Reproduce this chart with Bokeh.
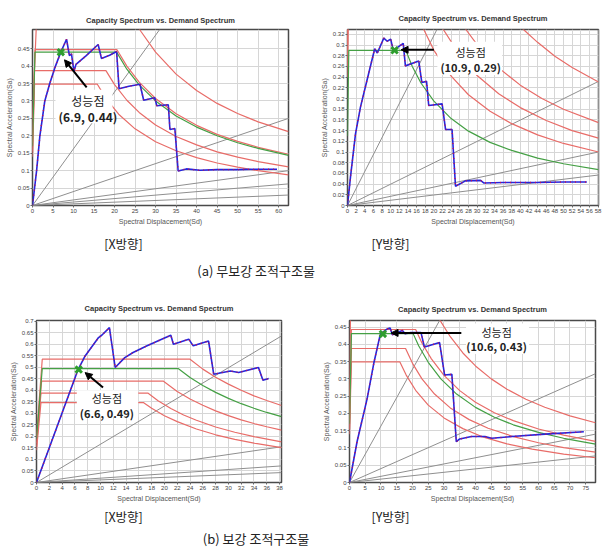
from bokeh.plotting import figure
from bokeh.models import Range1d, FixedTicker, Label, Arrow, NormalHead, BoxAnnotation, ColumnDataSource
from bokeh.layouts import column, row
from bokeh.embed import file_html
from bokeh.resources import INLINE

TITLE = "Capacity Spectrum vs. Demand Spectrum"
XLABEL = "Spectral Displacement(Sd)"
YLABEL = "Spectral Acceleration(Sa)"
PP_WORD = "성능점"

# ---------------- (a) X direction ----------------
AX_XRANGE = (0, 62.4)
AX_YRANGE = (0, 0.505)
AX_XTICKS = [0, 5, 10, 15, 20, 25, 30, 35, 40, 45, 50, 55, 60]
AX_XLABELS = ["0", "5", "10", "15", "20", "25", "30", "35", "40", "45", "50", "55", "60"]
AX_YTICKS = [0, 0.05, 0.1, 0.15, 0.2, 0.25, 0.3, 0.35, 0.4, 0.45]
AX_YLABELS = ["0", "0.05", "0.1", "0.15", "0.2", "0.25", "0.3", "0.35", "0.4", "0.45"]
AX_CAP_SD = [0, 1.0, 1.8, 3.0, 4.2, 5.6, 6.9, 8.3, 9.0, 9.5, 10.1, 10.6, 13.1, 16.0, 16.8, 18.8, 20.5,
             21.1, 23.5, 26.2, 27.1, 29.8, 30.3, 33.1, 33.5, 34.7, 35.5, 37.5, 40.8, 45.0, 50.0, 55.0, 59.6]
AX_CAP_SA = [0, 0.10, 0.20, 0.30, 0.35, 0.40, 0.44, 0.477, 0.43, 0.435, 0.385, 0.405, 0.43, 0.462, 0.422, 0.431, 0.442,
             0.335, 0.342, 0.348, 0.302, 0.309, 0.286, 0.289, 0.218, 0.221, 0.099, 0.105, 0.101, 0.103, 0.103, 0.104, 0.104]
AX_R1_SD = [0, 1.3, 21.3, 24.0, 26.4, 30.0, 35.0, 40.0, 45.0, 50.0, 55.0, 62.4]
AX_R1_SA = [0.25, 0.62, 0.62, 0.55, 0.50, 0.44, 0.377, 0.33, 0.293, 0.264, 0.24, 0.212]
AX_R2_SD = [0, 0.6, 20.6, 23.0, 26.0, 30.0, 35.0, 40.0, 45.0, 50.0, 55.0, 62.4]
AX_R2_SA = [0.18, 0.447, 0.447, 0.40, 0.354, 0.307, 0.263, 0.23, 0.204, 0.184, 0.167, 0.147]
AX_R3_SD = [0, 0.5, 17.9, 20.0, 23.0, 26.0, 30.0, 35.0, 40.0, 45.0, 50.0, 55.0, 62.4]
AX_R3_SA = [0.155, 0.387, 0.387, 0.347, 0.302, 0.267, 0.231, 0.198, 0.174, 0.154, 0.139, 0.126, 0.111]
AX_R4_SD = [0, 0.5, 15.8, 18.0, 21.0, 25.0, 30.0, 35.0, 40.0, 45.0, 50.0, 55.0, 62.4]
AX_R4_SA = [0.14, 0.348, 0.348, 0.306, 0.262, 0.22, 0.183, 0.157, 0.1375, 0.122, 0.11, 0.10, 0.088]
AX_G_SD = [0, 0.6, 20.5, 23.0, 26.0, 30.0, 35.0, 40.0, 45.0, 50.0, 55.0, 62.4]
AX_G_SA = [0.17, 0.44, 0.44, 0.391, 0.346, 0.30, 0.257, 0.225, 0.20, 0.18, 0.164, 0.144]
AX_GRAY_SD = [31.0, 62.4, 62.4, 62.4, 62.4]
AX_GRAY_SA = [0.505, 0.25, 0.10, 0.062, 0.03]
AX_PP = (6.9, 0.44)
AX_PP_TEXT = "(6.9, 0.44)"

# ---------------- (a) Y direction ----------------
AY_XRANGE = (0, 58.1)
AY_YRANGE = (0, 0.329)
AY_XTICKS = list(range(0, 59, 2))
AY_XLABELS = [str(v) for v in AY_XTICKS]
AY_YTICKS = [0, 0.02, 0.04, 0.06, 0.08, 0.1, 0.12, 0.14, 0.16, 0.18, 0.2, 0.22, 0.24, 0.26, 0.28, 0.3, 0.32]
AY_YLABELS = ["0", "0.02", "0.04", "0.06", "0.08", "0.1", "0.12", "0.14", "0.16", "0.18", "0.2", "0.22",
              "0.24", "0.26", "0.28", "0.3", "0.32"]
AY_CAP_SD = [0, 0.7, 1.85, 3.0, 4.6, 6.3, 6.9, 8.4, 9.2, 10.0, 10.6, 12.9, 13.4, 16.5, 17.2, 18.3, 18.8,
             21.9, 22.7, 24.2, 25.0, 27.3, 30.8, 31.6, 36.0, 44.0, 50.0, 55.4]
AY_CAP_SA = [0, 0.054, 0.134, 0.184, 0.237, 0.293, 0.285, 0.313, 0.307, 0.311, 0.29, 0.303, 0.261, 0.27, 0.23,
             0.232, 0.187, 0.19, 0.142, 0.142, 0.036, 0.046, 0.047, 0.042, 0.043, 0.043, 0.044, 0.044]
AY_R1_SD = [0, 0.35, 9.7, 12.0, 15.0, 17.6, 20.0, 24.0, 28.0, 33.0, 38.0, 44.0, 50.0, 58.1]
AY_R1_SA = [0.24, 0.6, 0.6, 0.483, 0.387, 0.33, 0.29, 0.242, 0.207, 0.176, 0.153, 0.132, 0.116, 0.10]
AY_R2_SD = [0, 0.4, 9.7, 13.0, 17.0, 22.1, 26.0, 30.0, 35.0, 40.0, 46.0, 52.0, 58.1]
AY_R2_SA = [0.26, 0.75, 0.75, 0.56, 0.43, 0.33, 0.281, 0.243, 0.209, 0.183, 0.159, 0.14, 0.126]
AY_R3_SD = [0, 0.45, 11.25, 15.0, 20.0, 27.3, 31.0, 35.0, 40.0, 45.0, 50.0, 58.1]
AY_R3_SA = [0.28, 0.8, 0.8, 0.6, 0.45, 0.33, 0.29, 0.257, 0.225, 0.20, 0.18, 0.155]
AY_R4_SD = [0, 0.5, 14.9, 20.0, 30.0, 40.6, 44.0, 48.0, 52.0, 58.1]
AY_R4_SA = [0.3, 0.9, 0.9, 0.67, 0.447, 0.33, 0.305, 0.279, 0.258, 0.231]
AY_G_SD = [0, 0.3, 13.5, 15.0, 17.0, 20.0, 24.0, 28.0, 33.0, 38.0, 44.0, 50.0, 58.1]
AY_G_SA = [0.13, 0.29, 0.29, 0.26, 0.229, 0.195, 0.1625, 0.139, 0.118, 0.103, 0.0886, 0.078, 0.067]
AY_GRAY_SD = [20.7, 58.1, 58.1, 58.1]
AY_GRAY_SA = [0.329, 0.232, 0.10, 0.057]
AY_PP = (10.9, 0.29)
AY_PP_TEXT = "(10.9, 0.29)"

# ---------------- (b) X direction ----------------
BX_XRANGE = (0, 38.3)
BX_YRANGE = (0, 0.703)
BX_XTICKS = list(range(0, 39, 2))
BX_XLABELS = [str(v) for v in BX_XTICKS]
BX_YTICKS = [0, 0.05, 0.1, 0.15, 0.2, 0.25, 0.3, 0.35, 0.4, 0.45, 0.5, 0.55, 0.6, 0.65, 0.7]
BX_YLABELS = ["0", "0.05", "0.1", "0.15", "0.2", "0.25", "0.3", "0.35", "0.4", "0.45", "0.5", "0.55",
              "0.6", "0.65", "0.7"]
BX_CAP_SD = [0, 6.5, 7.6, 9.7, 10.2, 11.4, 12.3, 13.8, 15.1, 17.2, 19.3, 21.0, 21.4, 23.8, 24.5, 26.9,
             27.7, 30.3, 31.6, 34.7, 35.4, 36.3]
BX_CAP_SA = [0, 0.49, 0.549, 0.629, 0.639, 0.672, 0.499, 0.542, 0.564, 0.592, 0.618, 0.639, 0.60, 0.622,
             0.593, 0.614, 0.47, 0.484, 0.477, 0.499, 0.444, 0.451]
BX_R1_SD = [0, 0.9, 24.0, 26.0, 28.0, 30.0, 32.0, 34.0, 36.0, 38.3]
BX_R1_SA = [0.2, 0.535, 0.535, 0.492, 0.457, 0.427, 0.40, 0.376, 0.356, 0.334]
BX_R2_SD = [0, 0.8, 19.8, 22.0, 24.0, 26.0, 28.0, 30.0, 32.0, 34.0, 36.0, 38.3]
BX_R2_SA = [0.17, 0.44, 0.44, 0.395, 0.3625, 0.335, 0.311, 0.29, 0.272, 0.256, 0.242, 0.227]
BX_R3_SD = [0, 0.7, 17.4, 19.0, 21.0, 23.0, 25.0, 28.0, 31.0, 34.0, 38.3]
BX_R3_SA = [0.155, 0.388, 0.388, 0.355, 0.321, 0.293, 0.27, 0.241, 0.218, 0.199, 0.176]
BX_R4_SD = [0, 0.7, 16.7, 18.0, 20.0, 22.0, 25.0, 28.0, 31.0, 34.0, 38.3]
BX_R4_SA = [0.14, 0.347, 0.347, 0.322, 0.29, 0.264, 0.232, 0.207, 0.187, 0.171, 0.151]
BX_G_SD = [0, 0.9, 22.2, 24.0, 26.0, 28.0, 30.0, 32.0, 34.0, 36.0, 38.3]
BX_G_SA = [0.19, 0.494, 0.494, 0.456, 0.421, 0.391, 0.365, 0.342, 0.322, 0.304, 0.286]
BX_GRAY_SD = [38.3, 38.3, 38.3, 38.3]
BX_GRAY_SA = [0.636, 0.155, 0.072, 0.043]
BX_PP = (6.6, 0.49)
BX_PP_TEXT = "(6.6, 0.49)"

# ---------------- (b) Y direction ----------------
BY_XRANGE = (0, 78.1)
BY_YRANGE = (0, 0.469)
BY_XTICKS = list(range(0, 76, 5))
BY_XLABELS = [str(v) for v in BY_XTICKS]
BY_YTICKS = [0, 0.05, 0.1, 0.15, 0.2, 0.25, 0.3, 0.35, 0.4, 0.45]
BY_YLABELS = ["0", "0.05", "0.1", "0.15", "0.2", "0.25", "0.3", "0.35", "0.4", "0.45"]
BY_CAP_SD = [0, 2.4, 5.6, 7.8, 9.7, 10.4, 12.0, 12.9, 13.6, 15.2, 16.8, 17.6, 19.5, 22.7, 23.8, 28.6,
             30.2, 32.5, 33.9, 35.0, 38.7, 43.0, 45.1, 51.5, 62.1, 74.4]
BY_CAP_SA = [0, 0.118, 0.243, 0.349, 0.426, 0.434, 0.445, 0.447, 0.428, 0.434, 0.44, 0.431, 0.434, 0.434,
             0.392, 0.405, 0.311, 0.313, 0.118, 0.126, 0.133, 0.133, 0.128, 0.133, 0.14, 0.147]
BY_R1_SD = [0, 0.6, 19.3, 22.0, 25.0, 28.7, 32.0, 36.0, 40.0, 45.0, 50.0, 56.0, 62.0, 70.0, 78.1]
BY_R1_SA = [0.25, 0.7, 0.7, 0.614, 0.54, 0.47, 0.422, 0.375, 0.3375, 0.30, 0.27, 0.241, 0.218, 0.193, 0.173]
BY_R2_SD = [0, 0.6, 21.0, 23.0, 26.0, 30.0, 35.0, 40.0, 46.0, 52.0, 60.0, 68.0, 78.1]
BY_R2_SA = [0.18, 0.443, 0.443, 0.404, 0.358, 0.31, 0.266, 0.2325, 0.202, 0.179, 0.155, 0.137, 0.119]
BY_R3_SD = [0, 0.6, 17.8, 20.0, 23.0, 27.0, 32.0, 38.0, 44.0, 52.0, 60.0, 68.0, 78.1]
BY_R3_SA = [0.155, 0.388, 0.388, 0.345, 0.30, 0.256, 0.216, 0.182, 0.157, 0.133, 0.115, 0.101, 0.088]
BY_R4_SD = [0, 0.6, 16.0, 18.0, 21.0, 25.0, 30.0, 36.0, 42.0, 50.0, 58.0, 68.0, 78.1]
BY_R4_SA = [0.14, 0.349, 0.349, 0.311, 0.267, 0.224, 0.187, 0.156, 0.133, 0.112, 0.0966, 0.0824, 0.0717]
BY_G_SD = [0, 0.6, 20.2, 22.0, 25.0, 29.0, 34.0, 40.0, 46.0, 52.0, 60.0, 68.0, 78.1]
BY_G_SA = [0.17, 0.431, 0.431, 0.395, 0.348, 0.30, 0.256, 0.2175, 0.189, 0.167, 0.145, 0.128, 0.111]
BY_GRAY_SD = [28.6, 78.1, 78.1, 78.1]
BY_GRAY_SA = [0.469, 0.315, 0.14, 0.077]
BY_PP = (10.6, 0.43)
BY_PP_TEXT = "(10.6, 0.43)"

CAPTION_A = "(a) 무보강  조적구조물"
CAPTION_B = "(b) 보강  조적구조물"
SUB_X = "[X방향]"
SUB_Y = "[Y방향]"

BLUE = "#2626dc"
DOTS = "#c8104c"
RED = "#e86c68"
GREEN = "#45a045"
GRAY = "#8f8f8f"
KFONT = "Noto Sans CJK KR"
AFONT = "Liberation Sans"


def make_panel(width, height, borders, xr, yr, xt, xl, yt, yl, reds, green, gray_sd, gray_sa,
               cap_sd, cap_sa, pp, pp_text, box, txt_pos, arrow, fsize, title_standoff, title_offset):
    left, right, top, bottom = borders
    p = figure(width=width, height=height, x_range=Range1d(*xr), y_range=Range1d(*yr),
               toolbar_location=None, output_backend="svg",
               min_border_left=left, min_border_right=right, min_border_top=top, min_border_bottom=bottom,
               background_fill_color="white", border_fill_color="white")
    p.title.text = TITLE
    p.title.align = "center"
    p.title.offset = title_offset
    p.title.standoff = title_standoff
    p.title.text_font = AFONT
    p.title.text_font_size = "7.5px"
    p.title.text_font_style = "bold"
    p.title.text_color = "#333333"
    p.outline_line_color = "#4a4a4a"
    p.outline_line_width = 1.5
    p.xaxis.axis_label = XLABEL
    p.yaxis.axis_label = YLABEL
    p.xaxis.ticker = FixedTicker(ticks=xt)
    p.yaxis.ticker = FixedTicker(ticks=yt)
    p.xaxis.major_label_overrides = dict(zip(xt, xl))
    p.yaxis.major_label_overrides = dict(zip(yt, yl))
    for ax in p.axis:
        ax.major_label_text_font = AFONT
        ax.major_label_text_font_size = "6px"
        ax.major_label_text_color = "#444444"
        ax.axis_label_text_font = AFONT
        ax.axis_label_text_font_size = "7px"
        ax.axis_label_text_font_style = "normal"
        ax.axis_label_text_color = "#555555"
        ax.axis_line_color = None
        ax.major_tick_line_color = "#666666"
        ax.major_tick_out = 2
        ax.major_tick_in = 0
        ax.minor_tick_line_color = None
        ax.major_label_standoff = 1
        ax.axis_label_standoff = 2
    p.grid.grid_line_color = "#d6d6d6"
    p.grid.grid_line_width = 1

    # period (radial) lines
    gsrc = ColumnDataSource(dict(x0=[0] * len(gray_sd), y0=[0] * len(gray_sd), x1=gray_sd, y1=gray_sa))
    p.segment(x0="x0", y0="y0", x1="x1", y1="y1", source=gsrc, line_color=GRAY, line_width=1)
    # demand spectra
    for sd, sa in reds:
        p.line(sd, sa, line_color=RED, line_width=1.2)
    p.line(green[0], green[1], line_color=GREEN, line_width=1.2)
    # capacity spectrum
    p.line(cap_sd, cap_sa, line_color=BLUE, line_width=1.6)
    p.line(cap_sd, cap_sa, line_color=DOTS, line_width=1.4, line_dash="1 4")
    # performance point
    p.scatter([pp[0]], [pp[1]], marker="x", size=9, line_width=3, line_color="#2e9e2e")

    bl, br, bb, bt = box
    p.add_layout(BoxAnnotation(left=bl, right=br, bottom=bb, top=bt, fill_color="white", fill_alpha=1.0,
                               line_color=None))
    tx, ty1, ty2 = txt_pos
    p.add_layout(Label(x=tx, y=ty1, text=PP_WORD, text_align="center", text_baseline="middle",
                       text_font=KFONT, text_font_size=fsize, text_color="#222222"))
    p.add_layout(Label(x=tx, y=ty2, text=pp_text, text_align="center", text_baseline="middle",
                       text_font=KFONT, text_font_size=fsize, text_font_style="bold", text_color="#222222"))
    xs, ys, xe, ye = arrow
    p.add_layout(Arrow(end=NormalHead(size=7, fill_color="black", line_color="black"),
                       x_start=xs, y_start=ys, x_end=xe, y_end=ye, line_color="black", line_width=2))
    return p


def caption(height, y_sub, y_main, text):
    c = figure(width=616, height=height, x_range=Range1d(0, 616), y_range=Range1d(0, height),
               toolbar_location=None, output_backend="svg", min_border=0,
               x_axis_type=None, y_axis_type=None, outline_line_color=None)
    c.xgrid.visible = False
    c.ygrid.visible = False
    for x, t in [(123, SUB_X), (390, SUB_Y)]:
        c.add_layout(Label(x=x, y=y_sub, text=t, text_align="center", text_baseline="middle",
                           text_font=KFONT, text_font_size="12.5px", text_color="#222222"))
    c.add_layout(Label(x=257, y=y_main, text=text, text_align="center", text_baseline="middle",
                       text_font=KFONT, text_font_size="13px", text_color="#222222"))
    return c


pAX = make_panel(306, 233, (32, 18, 23, 28), AX_XRANGE, AX_YRANGE, AX_XTICKS, AX_XLABELS, AX_YTICKS, AX_YLABELS,
                 [(AX_R1_SD, AX_R1_SA), (AX_R2_SD, AX_R2_SA), (AX_R3_SD, AX_R3_SA), (AX_R4_SD, AX_R4_SA)],
                 (AX_G_SD, AX_G_SA), AX_GRAY_SD, AX_GRAY_SA, AX_CAP_SD, AX_CAP_SA, AX_PP, AX_PP_TEXT,
                 (5.6, 19.5, 0.236, 0.332), (13.5, 0.30, 0.256), (13.2, 0.339, 7.8, 0.418), "12px", 10, -10)
pAY = make_panel(310, 233, (41, 18, 29, 26), AY_XRANGE, AY_YRANGE, AY_XTICKS, AY_XLABELS, AY_YTICKS, AY_YLABELS,
                 [(AY_R1_SD, AY_R1_SA), (AY_R2_SD, AY_R2_SA), (AY_R3_SD, AY_R3_SA), (AY_R4_SD, AY_R4_SA)],
                 (AY_G_SD, AY_G_SA), AY_GRAY_SD, AY_GRAY_SA, AY_CAP_SD, AY_CAP_SA, AY_PP, AY_PP_TEXT,
                 (20.8, 35.8, 0.244, 0.306), (28.5, 0.2875, 0.2596), (20.0, 0.291, 12.4, 0.291), "11px", 13, -10)
pBX = make_panel(306, 215, (36, 25, 29, 23), BX_XRANGE, BX_YRANGE, BX_XTICKS, BX_XLABELS, BX_YTICKS, BX_YLABELS,
                 [(BX_R1_SD, BX_R1_SA), (BX_R2_SD, BX_R2_SA), (BX_R3_SD, BX_R3_SA), (BX_R4_SD, BX_R4_SA)],
                 (BX_G_SD, BX_G_SA), BX_GRAY_SD, BX_GRAY_SA, BX_CAP_SD, BX_CAP_SA, BX_PP, BX_PP_TEXT,
                 (6.3, 15.9, 0.285, 0.40), (11.0, 0.368, 0.303), (10.4, 0.412, 7.6, 0.477), "11px", 15, -11)
pBY = make_panel(310, 215, (43, 21, 30, 22), BY_XRANGE, BY_YRANGE, BY_XTICKS, BY_XLABELS, BY_YTICKS, BY_YLABELS,
                 [(BY_R1_SD, BY_R1_SA), (BY_R2_SD, BY_R2_SA), (BY_R3_SD, BY_R3_SA), (BY_R4_SD, BY_R4_SA)],
                 (BY_G_SD, BY_G_SA), BY_GRAY_SD, BY_GRAY_SA, BY_CAP_SD, BY_CAP_SA, BY_PP, BY_PP_TEXT,
                 (37.0, 57.0, 0.372, 0.46), (46.7, 0.4355, 0.394), (35.5, 0.433, 13.2, 0.433), "11px", 14, -10)

capA = caption(57, 47, 20, CAPTION_A)
capB = caption(53, 42, 20, CAPTION_B)

layout = column(row(pAX, pAY), capA, row(pBX, pBY), capB)
open("out.html", "w").write(file_html(layout, INLINE))
